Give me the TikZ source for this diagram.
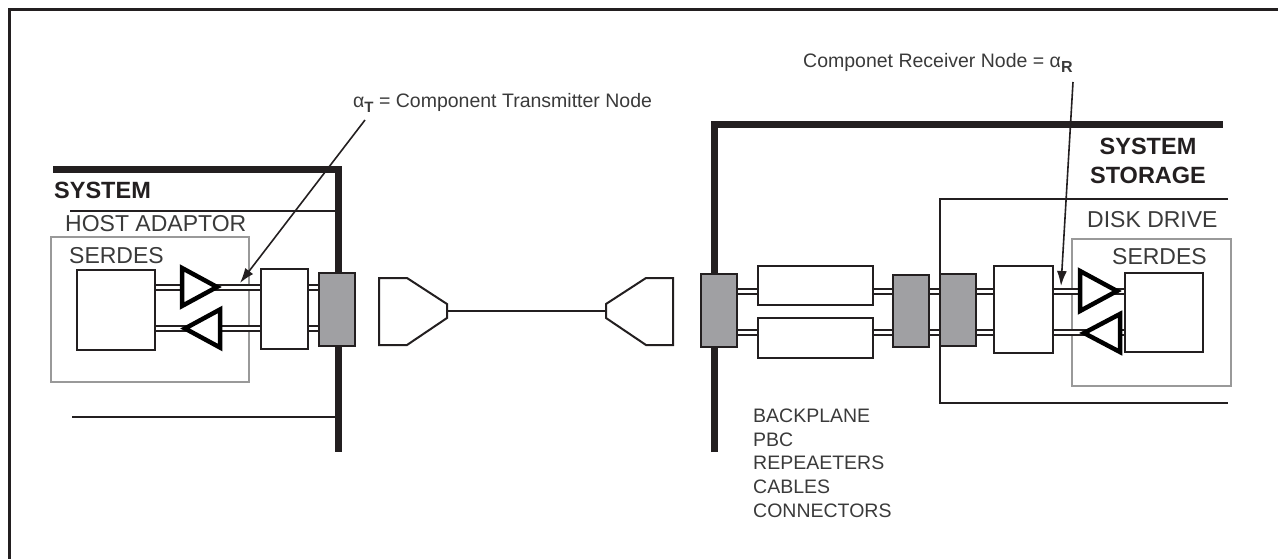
\documentclass[tikz,border=0pt]{standalone}
\usepackage{fontspec}
\setmainfont{Liberation Sans}
\usetikzlibrary{arrows.meta}
\definecolor{ink}{HTML}{231F20}
\definecolor{txt}{HTML}{3A3A3A}
\definecolor{congray}{HTML}{A0A0A3}
\definecolor{serdgray}{HTML}{999999}
\begin{document}
\begin{tikzpicture}[x=1pt,y=-1pt,
  frameline/.style={draw=ink,line width=3pt},
  wall/.style={draw=ink,line width=7pt},
  thinline/.style={draw=ink,line width=2pt},
  box/.style={draw=ink,line width=2pt,fill=white,inner sep=0pt},
  congbox/.style={draw=ink,line width=2pt,fill=congray,inner sep=0pt},
  serdbox/.style={draw=serdgray,line width=2pt,inner sep=0pt},
  pair/.style={draw=ink,double=white,double distance=3pt,line width=2pt},
  drv/.style={draw=black,line width=4.5pt,fill=white,line join=miter,miter limit=10},
  plug/.style={draw=ink,line width=2pt,fill=white,line join=miter},
  bigtxt/.style={font=\fontsize{23}{30}\selectfont,text=txt,inner sep=0pt},
  boldtxt/.style={font=\fontsize{23.5}{29}\selectfont\bfseries,text=ink,inner sep=0pt},
  smalltxt/.style={font=\fontsize{19.5}{23.6}\selectfont,text=txt,inner sep=0pt},
  callout/.style={draw=ink,line width=1.6pt,-{Latex[length=15pt,width=10pt]}}
]
\useasboundingbox (0,0) rectangle (1278,559);
% frame
\draw[frameline] (9.5,559) -- (9.5,9.7) -- (1278,9.7);

% ---------- left system ----------
\draw[wall] (53,170) -- (338,170) -- (338,452);
\draw[thinline] (70,211) -- (338,211);
\draw[thinline] (72,417) -- (338,417);
\node[boldtxt,anchor=base west] (sys) at (54,199) {SYSTEM};
\node[bigtxt,anchor=base west] (host) at (65,232) {HOST ADAPTOR};
\node[serdbox,minimum width=198pt,minimum height=145pt] (lserdes) at (150,309.5) {};
\node[bigtxt,anchor=base west] (lserdestxt) at (69,263) {SERDES};
\node[box,minimum width=78pt,minimum height=80pt] (hostblk) at (116,310) {};
\node[box,minimum width=47pt,minimum height=80pt] (lwb) at (284.5,309) {};
\node[congbox,minimum width=36pt,minimum height=73pt] (lcon) at (337,309.5) {};
\draw[pair] (hostblk.east |- 0,287) -- (lwb.west |- 0,287);
\draw[pair] (hostblk.east |- 0,328) -- (lwb.west |- 0,328);
\draw[pair] (lwb.east |- 0,287) -- (lcon.west |- 0,287);
\draw[pair] (lwb.east |- 0,328) -- (lcon.west |- 0,328);
\draw[drv] (182,268) -- (217,287) -- (182,306) -- cycle;
\draw[drv] (220,309.5) -- (185,328.5) -- (220,347.5) -- cycle;
\coordinate (ltx) at (240,283);

% ---------- cable ----------
\draw[plug] (379,278) -- (407,278) -- (447,304) -- (447,318) -- (407,345) -- (379,345) -- cycle;
\draw[plug] (673,278) -- (646,278) -- (606,304) -- (606,318) -- (646,345) -- (673,345) -- cycle;
\coordinate (lplugtip) at (447,311);
\coordinate (rplugtip) at (606,311);
\draw[thinline] (lplugtip) -- (rplugtip);

% ---------- right system ----------
\draw[wall] (714,452) -- (714,125) -- (1223,125);
\draw[thinline] (1228,199) -- (940,199) -- (940,403) -- (1228,403);
\node[boldtxt,align=center,anchor=base] (sys2) at (1148,184) {SYSTEM\\STORAGE};
\node[bigtxt,anchor=base west] (disk) at (1087,227) {DISK DRIVE};
\node[serdbox,minimum width=159pt,minimum height=147pt] (rserdes) at (1151.5,312.5) {};
\node[bigtxt,anchor=base west] (rserdestxt) at (1112,264) {SERDES};
\node[congbox,minimum width=36pt,minimum height=73pt] (con1) at (719,310.5) {};
\node[box,minimum width=115pt,minimum height=39pt] (rep1) at (815.5,285.5) {};
\node[box,minimum width=115pt,minimum height=40pt] (rep2) at (815.5,338) {};
\node[congbox,minimum width=36pt,minimum height=72pt] (con2) at (911,311) {};
\node[congbox,minimum width=36pt,minimum height=72pt] (con3) at (958,310) {};
\node[box,minimum width=59pt,minimum height=87pt] (rwb) at (1023.5,309.5) {};
\node[box,minimum width=78pt,minimum height=79pt] (diskblk) at (1164,312.5) {};
\foreach \yy in {291,332.5}{
  \draw[pair] (con1.east |- 0,\yy) -- (rep1.west |- 0,\yy);
  \draw[pair] (rep1.east |- 0,\yy) -- (con2.west |- 0,\yy);
  \draw[pair] (con2.east |- 0,\yy) -- (con3.west |- 0,\yy);
  \draw[pair] (con3.east |- 0,\yy) -- (rwb.west |- 0,\yy);
  \draw[pair] (rwb.east |- 0,\yy) -- (diskblk.west |- 0,\yy);
}
\draw[drv] (1080,271) -- (1117,291) -- (1080,311) -- cycle;
\draw[drv] (1120,314) -- (1084,333) -- (1120,352) -- cycle;
\coordinate (rrx) at (1061,286);

% ---------- labels ----------
\node[smalltxt,anchor=base west] (at) at (353,107.5) {α\raisebox{-0.45ex}{\fontsize{15}{15}\selectfont\bfseries T} = Component Transmitter Node};
\coordinate (atfoot) at (365,120);
\draw[callout] (atfoot) -- (ltx);
\node[smalltxt,anchor=base west] (ar) at (803,68) {Componet Receiver Node = α\raisebox{-0.45ex}{\fontsize{16}{16}\selectfont\bfseries R}};
\coordinate (arfoot) at (1073,82);
\draw[callout] (arfoot) -- (rrx);
\node[smalltxt,anchor=base west,align=left] (list) at (753,517) {BACKPLANE\\PBC\\REPEAETERS\\CABLES\\CONNECTORS};
\end{tikzpicture}
\end{document}
